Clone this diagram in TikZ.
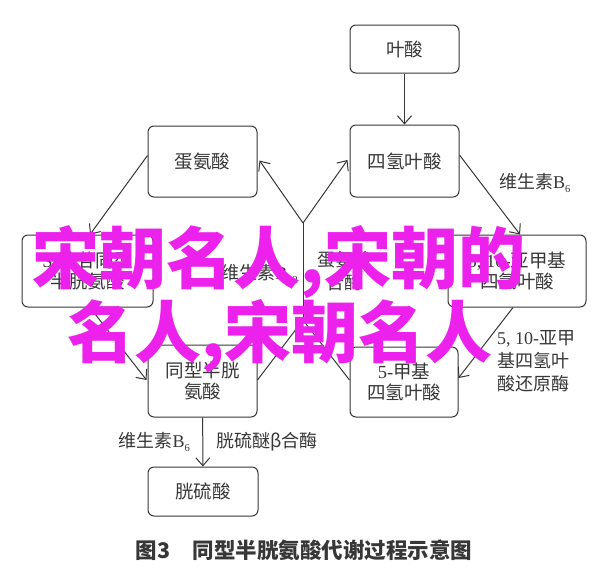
\documentclass[tikz,border=0pt]{standalone}
\usepackage{fontspec}
\usetikzlibrary{arrows.meta,calc}
\setmainfont{Liberation Serif}
\newfontfamily\cjk{Noto Sans CJK SC}
\newfontfamily\lat{Liberation Serif}
\newcommand\subsix[1]{\raisebox{-.4ex}{\fontsize{10.5}{10.5}\selectfont\lat #1}}
\definecolor{ink}{RGB}{55,55,55}
\definecolor{wm}{RGB}{236,34,236}
\tikzset{
  box/.style={draw=ink, line width=1pt, rounded corners=6pt, align=center,
    inner sep=0pt, font=\cjk\fontsize{18.5}{21.5}\selectfont, text=ink},
  conn/.style={draw=ink, line width=1pt},
  arr/.style={conn, -{Straight Barb[length=8pt,width=14pt,line width=1pt]}},
  lbl/.style={font=\cjk\fontsize{18}{23}\selectfont, text=ink, inner sep=0pt},
  wmark/.style={font=\cjk\bfseries\fontsize{67}{72}\selectfont, text=wm, inner sep=0pt}
}
\begin{document}
\begin{tikzpicture}[x=1pt,y=-1pt]
\useasboundingbox[fill=white] (0,0) rectangle (600,574);
% boxes
\node[box, minimum width=109pt, minimum height=48pt] (ys) at (404.5,49) {叶酸};
\node[box, minimum width=109pt, minimum height=71pt] (dan) at (202.5,161.5) {蛋氨酸};
\node[box, minimum width=109pt, minimum height=72pt] (sq) at (404.5,161) {四氢叶酸};
\node[box, minimum width=131pt, minimum height=72pt] (sam) at (87.5,271) {{\lat S-}腺苷同型\\半胱氨酸};
\node[box, minimum width=138pt, minimum height=72pt] (mth) at (517,271) {{\lat 5, 10-}亚甲基\\四氢叶酸};
\node[box, minimum width=109pt, minimum height=72pt] (hcy) at (202.5,381) {同型半胱\\氨酸};
\node[box, minimum width=108pt, minimum height=70pt] (mt) at (404,382) {{\lat 5-}甲基\\四氢叶酸};
\node[box, minimum width=110pt, minimum height=49pt] (cys) at (203,491.5) {胱硫酸};
% junctions
\coordinate (j1) at (303,320);
\coordinate (j2) at (303,223);
% connectors
\draw[arr] (ys) -- (sq);
\draw[arr] ($(sq.east)+(0,-6)$) -- ($(mth.north)+(3,0)$);
\draw[arr] ($(mth.south)+(-4,0)$) -- ($(mt.east)+(0,-4)$);
\draw[conn] ($(mt.west)+(0,-2)$) -- (j1);
\draw[conn] ($(hcy.east)+(0,-1)$) -- (j1);
\draw[conn] (j1) -- (j2);
\draw[arr] (j2) -- ($(dan.east)+(2,-1)$);
\draw[arr] (j2) -- ($(sq.west)+(-2,-1)$);
\draw[arr] ($(dan.west)+(0,-6)$) -- ($(sam.north)+(2.5,0)$);
\draw[arr] ($(sam.south)+(2.5,0)$) -- ($(hcy.west)+(-1,-1)$);
\draw[arr] (hcy) -- (cys);
% labels
\node[lbl, anchor=west] (l1) at (499,183) {维生素{\lat B}\subsix{6}};
\node[lbl, anchor=north west, align=left] (l2) at (497,330) {{\lat 5, 10-}亚甲\\基四氢叶\\酸还原酶};
\node[lbl, anchor=east] (l3) at (298,274) {维生素{\lat B}\subsix{12}};
\node[lbl, anchor=west, align=center] (l4) at (317,271) {蛋氨酸\\合酶};
\node[lbl, anchor=east] (l5) at (190,442) {维生素{\lat B}\subsix{6}};
\node[lbl, anchor=west] (l6) at (216,442) {胱硫醚β合酶};
% caption
\node[font=\cjk\bfseries\fontsize{21.5}{24}\selectfont, text=ink, inner sep=0pt] (cap) at (304,550) {图3\hspace{22pt}同型半胱氨酸代谢过程示意图};
% watermark
\node[wmark] (w1) at (279,262) {宋朝名人,宋朝的};
\node[wmark] (w2) at (280,336) {名人,宋朝名人};
\end{tikzpicture}
\end{document}
